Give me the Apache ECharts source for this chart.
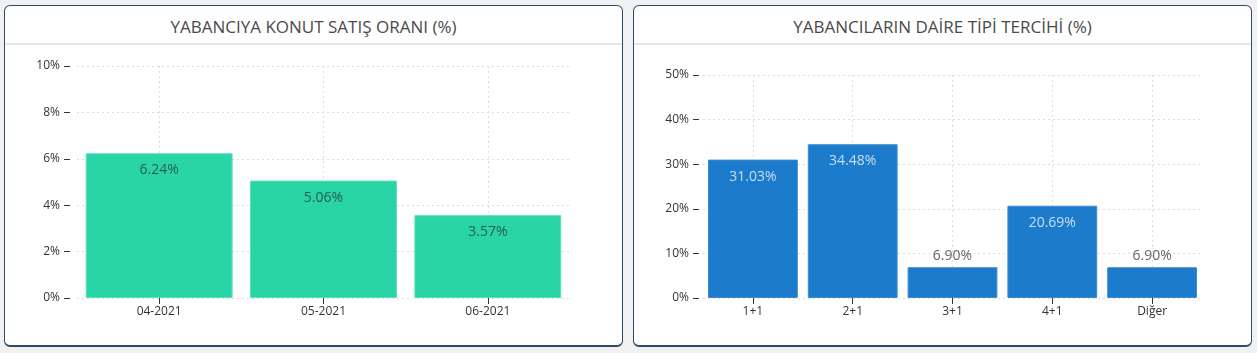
<!DOCTYPE html>
<html>
<head>
<meta charset="utf-8">
<script src="https://cdn.jsdelivr.net/npm/echarts@6/dist/echarts.min.js"></script>
<style>
  body { margin: 0; background: #f1f1f1; font-family: 'Open Sans', sans-serif; }
  .panel {
    position: absolute; top: 5px; width: 619px; height: 342px;
    box-sizing: border-box; background: #fff;
    border: 1px solid #2f4b6a; border-bottom-width: 2px; border-radius: 6px;
  }
  .panel_title {
    height: 39px; padding-top: 4px; box-sizing: border-box; line-height: 33px;
    text-align: center; font-size: 17px; color: #4a4a4a;
    border-bottom: 2px solid #e6e6e6;
  }
  .chart { width: 617px; height: 299px; }
</style>
</head>
<body>
<div class="panel" style="left:4px">
  <div class="panel_title">YABANCIYA KONUT SATIŞ ORANI (%)</div>
  <div class="chart" id="chart1"></div>
</div>
<div class="panel" style="left:633px">
  <div class="panel_title">YABANCILARIN DAİRE TİPİ TERCİHİ (%)</div>
  <div class="chart" id="chart2"></div>
</div>
<script>
// sol grafik: yabancıya satış oranı
const months = ['04-2021', '05-2021', '06-2021']
const salesRate = [6.24, 5.06, 3.57]
// sağ grafik: daire tipi tercihi
const flatTypes = ['1+1', '2+1', '3+1', '4+1', 'Diğer']
const flatShare = [31.03, 34.48, 6.90, 20.69, 6.90]

const axisFont = { fontFamily: 'Open Sans', fontSize: 12, color: '#333' }
const dotted = { show: true, lineStyle: { color: '#dcdcdc', type: [2, 3], width: 1 } }

function makeOption(cats, values, cfg) {
  // ikinci kategori ekseni sadece çubuk ortalarındaki dikey çizgiler için
  const helperCats = []
  for (let i = 0; i < cats.length * 2 + 1; i++) helperCats.push('')
  return {
    animation: false,
    grid: cfg.grid,
    xAxis: [
      {
        type: 'category',
        data: cats,
        axisLine: { show: false },
        axisTick: { show: true, alignWithLabel: true, length: 6, lineStyle: { color: '#333' } },
        axisLabel: Object.assign({ margin: 8 }, axisFont),
        splitLine: { show: false },
      },
      {
        type: 'category',
        data: helperCats,
        boundaryGap: false,
        position: 'bottom',
        axisLine: { show: false },
        axisTick: { show: false },
        axisLabel: { show: false },
        splitLine: Object.assign({ interval: (i) => i % 2 === 1 }, dotted),
      },
    ],
    yAxis: {
      type: 'value',
      min: 0,
      max: cfg.max,
      interval: cfg.interval,
      offset: cfg.offset,
      axisLine: { show: false },
      axisTick: { show: true, length: 6, lineStyle: { color: '#333' } },
      axisLabel: Object.assign({ margin: 10, formatter: '{value}%' }, axisFont),
      splitLine: dotted,
    },
    series: [
      {
        type: 'bar',
        barCategoryGap: cfg.gap,
        data: values.map((v) => {
          const outside = v < cfg.outsideBelow
          return {
            value: v,
            label: {
              position: outside ? 'top' : 'insideTop',
              distance: outside ? 4 : 10,
              color: outside ? '#666' : cfg.labelColor,
            },
          }
        }),
        itemStyle: { color: cfg.color, borderColor: cfg.borderColor, borderWidth: 1 },
        label: {
          show: true,
          fontFamily: 'Open Sans',
          fontSize: 14,
          formatter: (p) => p.value.toFixed(2) + '%',
        },
      },
    ],
  }
}

const chart1 = echarts.init(document.getElementById('chart1'))
chart1.setOption(makeOption(months, salesRate, {
  grid: { left: 72, right: 52, top: 21, bottom: 46 },
  max: 10, interval: 2, offset: 7, gap: '10.6%', outsideBelow: 1,
  color: '#29d4a6', borderColor: '#5fe0bd', labelColor: '#285f50',
}))

const chart2 = echarts.init(document.getElementById('chart2'))
chart2.setOption(makeOption(flatTypes, flatShare, {
  grid: { left: 69, right: 49, top: 30, bottom: 46 },
  max: 50, interval: 10, offset: 4, gap: '10%', outsideBelow: 10,
  color: '#1c7bca', borderColor: '#3a8ed3', labelColor: '#c8def3',
}))
</script>
</body>
</html>
